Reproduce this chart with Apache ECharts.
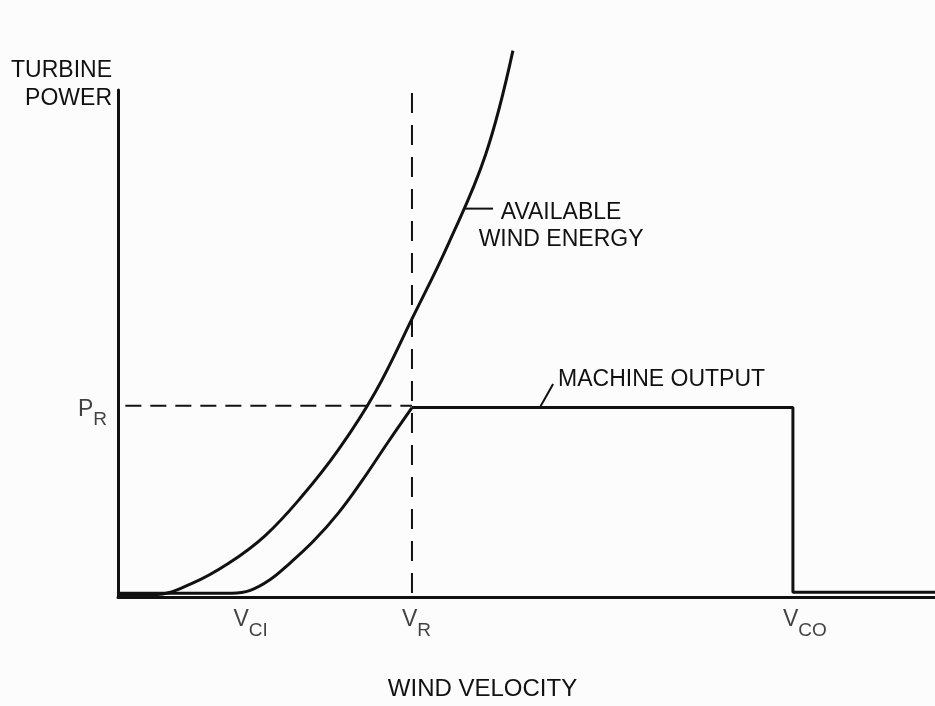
<!DOCTYPE html>
<html>
<head>
<meta charset="utf-8">
<title>Turbine power vs wind velocity</title>
<script src="https://cdn.jsdelivr.net/npm/echarts@6/dist/echarts.min.js"></script>
<style>
  html, body { margin: 0; padding: 0; background: #fcfcfc; }
  #chart { width: 935px; height: 706px; }
</style>
</head>
<body>
<div id="chart"></div>
<script>
  // wind velocity in arbitrary units, turbine power relative to rated power (P_R = 1)
  const availableVelocity = [0, 1.5, 3.0, 4.5, 6.0, 7.5, 9.0, 10.5, 12.0, 13.5, 15.0, 16.12]
  const availablePower = [0.01, 0.012, 0.07, 0.175, 0.32, 0.525, 0.77, 1.07, 1.454, 1.85, 2.31, 2.856]

  const rampVelocity = [0, 4.65, 5.4, 6.2, 7.0, 8.0, 9.0, 10.0, 11.0, 12.0]
  const rampPower = [0.02, 0.02, 0.035, 0.09, 0.175, 0.295, 0.44, 0.615, 0.805, 0.99]

  const ratedVelocity = [12.0, 27.55, 27.55, 33.35]
  const ratedPower = [0.99, 0.99, 0.025, 0.025]

  const vRated = 12
  const pRated = 1
  const velocityMax = 33.35
  const powerMax = 2.65
  const ratedSpeedTop = 2.634

  const velocityTicks = [5.12, 12, 27.55]
  const velocityTickSubs = ['CI', 'R', 'CO']

  // leader lines for the curve labels: [velocity, power]
  const availableLeader = [[14.16, 2.03], [15.31, 2.03]]
  const machineLeader = [[17.22, 0.99], [17.76, 1.113]]

  const ink = '#111'
  const font = 'Liberation Sans'
  const zip = (xs, ys) => xs.map((x, i) => [x, ys[i]])

  const rich = {
    v: {fontSize: 23, lineHeight: 23, verticalAlign: 'top', color: ink, fontFamily: font},
    s: {fontSize: 19, lineHeight: 19, verticalAlign: 'top', padding: [13, 0, 0, 0], color: ink, fontFamily: font}
  }
  const curve = {type: 'line', symbol: 'none', silent: true, lineStyle: {color: ink, width: 3}}
  const leader = {type: 'line', symbol: 'circle', symbolSize: 0, showSymbol: true, silent: true, lineStyle: {color: ink, width: 2}}

  let chart = echarts.init(document.getElementById('chart'))
  chart.setOption({
    animation: false,
    backgroundColor: '#fcfcfc',
    grid: {left: 118, right: 0, top: 90, bottom: 102},
    xAxis: {
      type: 'value', min: 0, max: velocityMax,
      name: 'WIND VELOCITY', nameLocation: 'middle', nameGap: 80,
      nameTextStyle: {fontSize: 24, color: ink, fontFamily: font, padding: [0, 88, 0, 0]},
      axisLine: {lineStyle: {color: ink, width: 3}},
      axisTick: {show: false}, axisLabel: {show: false}, splitLine: {show: false}
    },
    yAxis: {
      type: 'value', min: 0, max: powerMax,
      name: 'TURBINE\nPOWER', nameLocation: 'end', nameGap: -23,
      nameTextStyle: {fontSize: 23, lineHeight: 28, color: ink, fontFamily: font, align: 'right', verticalAlign: 'bottom', padding: [0, 6, 0, 0]},
      axisLine: {show: true, lineStyle: {color: ink, width: 3}},
      axisTick: {show: false}, axisLabel: {show: false}, splitLine: {show: false}
    },
    series: [
      Object.assign({}, curve, {name: 'Available wind energy', smooth: 0.4, clip: false, data: zip(availableVelocity, availablePower)}),
      Object.assign({}, curve, {name: 'Machine output', smooth: 0.4, data: zip(rampVelocity, rampPower)}),
      Object.assign({}, curve, {name: 'Machine output', data: zip(ratedVelocity, ratedPower)}),
      Object.assign({}, curve, {
        name: 'Rated power', lineStyle: {color: ink, width: 2, type: [16, 9]},
        data: [[0.3, pRated], [vRated, pRated]]
      }),
      Object.assign({}, curve, {
        name: 'Rated speed', lineStyle: {color: ink, width: 2, type: [20, 12]},
        data: [[vRated, ratedSpeedTop], [vRated, 0]]
      }),
      Object.assign({}, leader, {
        name: 'Available label',
        data: [availableLeader[0], {
          value: availableLeader[1],
          label: {
            show: true, position: 'right', distance: 0, align: 'center', verticalAlign: 'middle',
            offset: [68, 18], formatter: 'AVAILABLE\nWIND ENERGY',
            fontSize: 23, lineHeight: 27, color: ink, fontFamily: font
          }
        }]
      }),
      Object.assign({}, leader, {
        name: 'Machine label',
        data: [machineLeader[0], {
          value: machineLeader[1],
          label: {
            show: true, position: 'right', distance: 5, verticalAlign: 'middle',
            offset: [0, -4], formatter: 'MACHINE OUTPUT',
            fontSize: 23, color: ink, fontFamily: font
          }
        }]
      }),
      {
        name: 'Velocity ticks', type: 'scatter', symbolSize: 0, silent: true,
        data: velocityTicks.map((v, i) => ({value: [v, 0], sub: velocityTickSubs[i]})),
        label: {
          show: true, position: 'bottom', distance: 0, align: 'left', verticalAlign: 'top',
          offset: [-10, 11], rich: rich,
          formatter: p => '{v|V}{s|' + p.data.sub + '}'
        }
      },
      {
        name: 'Power ticks', type: 'scatter', symbolSize: 0, silent: true,
        data: [{value: [0, pRated], sub: 'R'}],
        label: {
          show: true, position: 'left', distance: 11, align: 'right', verticalAlign: 'top',
          offset: [0, -8], rich: rich,
          formatter: p => '{v|P}{s|' + p.data.sub + '}'
        }
      }
    ]
  })
</script>
</body>
</html>
